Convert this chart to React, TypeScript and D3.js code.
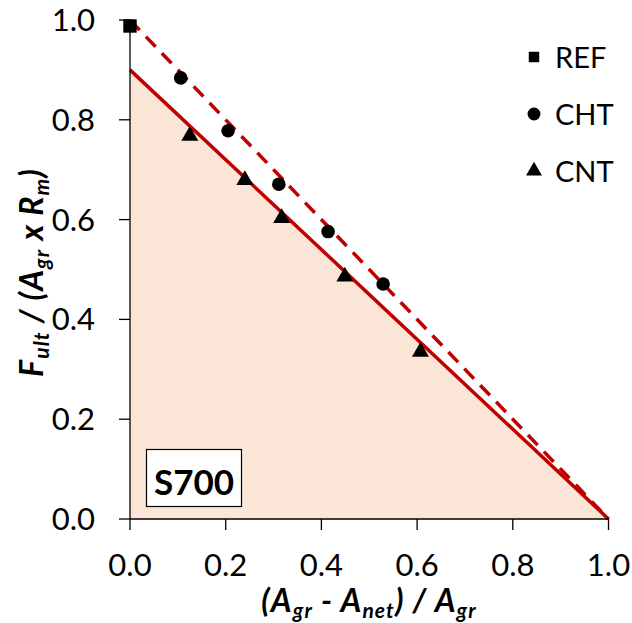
import React from "react";
import * as d3 from "d3";

const refX = [0.0];
const refY = [0.988];
const chtX = [0.106, 0.205, 0.311, 0.414, 0.529];
const chtY = [0.884, 0.778, 0.671, 0.576, 0.471];
const cntX = [0.125, 0.24, 0.317, 0.449, 0.607];
const cntY = [0.768, 0.679, 0.603, 0.486, 0.335];
const dashedLineX = [0, 1];
const dashedLineY = [1, 0];
const solidLineX = [0, 1];
const solidLineY = [0.9, 0];
const xTicks = [0, 0.2, 0.4, 0.6, 0.8, 1.0];
const yTicks = [0, 0.2, 0.4, 0.6, 0.8, 1.0];
const legendLabels = ["REF", "CHT", "CNT"];
const boxLabel = "S700";

const W = 632;
const H = 623;
const FONT = "Lato, 'Open Sans', sans-serif";
const RED = "#C00000";
const FILL = "#FBE5D6";

export default function App() {
  const x = d3.scaleLinear().domain([0, 1]).range([130, 608.5]);
  const y = d3.scaleLinear().domain([0, 1]).range([519, 20]);
  const fmt = d3.format(".1f");

  const line = d3
    .line<[number, number]>()
    .x((d) => x(d[0]))
    .y((d) => y(d[1]));

  const solidPts: [number, number][] = solidLineX.map((v, i) => [v, solidLineY[i]]);
  const dashedPts: [number, number][] = dashedLineX.map((v, i) => [v, dashedLineY[i]]);
  const area = d3
    .area<[number, number]>()
    .x((d) => x(d[0]))
    .y0(y(0))
    .y1((d) => y(d[1]));

  const sq = d3.symbol().type(d3.symbolSquare).size(180)();
  const circ = d3.symbol().type(d3.symbolCircle).size(145)();
  const tri = d3.symbol().type(d3.symbolTriangle).size(125)();
  const triLeg = d3.symbol().type(d3.symbolTriangle).size(110)();
  const shapes = [sq, circ, tri];

  return (
    <div style={{ position: "absolute", left: 0, top: 0 }}>
      <svg width={W} height={H} style={{ display: "block", background: "#fff" }}>
        <path d={area(solidPts) || ""} fill={FILL} />
        <path d={line(solidPts) || ""} stroke={RED} strokeWidth={3.5} fill="none" />
        <path
          d={line(dashedPts) || ""}
          stroke={RED}
          strokeWidth={3.5}
          fill="none"
          strokeDasharray="14,9"
        />
        {/* axes */}
        <line x1={x(0)} x2={x(1)} y1={y(0)} y2={y(0)} stroke="#000" strokeWidth={1.3} />
        <line x1={x(0)} x2={x(0)} y1={y(0)} y2={y(1)} stroke="#000" strokeWidth={1.3} />
        {xTicks.map((t) => (
          <g key={"xt" + t}>
            <line x1={x(t)} x2={x(t)} y1={y(0)} y2={y(0) + 11} stroke="#000" strokeWidth={1.3} />
            <text
              x={x(t)}
              y={576}
              textAnchor="middle"
              fontFamily={FONT}
              fontSize={31}
              fill="#000"
            >
              {fmt(t)}
            </text>
          </g>
        ))}
        {yTicks.map((t) => (
          <g key={"yt" + t}>
            <line x1={x(0) - 11} x2={x(0)} y1={y(t)} y2={y(t)} stroke="#000" strokeWidth={1.3} />
            <text
              x={95}
              y={y(t) + 11}
              textAnchor="end"
              fontFamily={FONT}
              fontSize={31}
              fill="#000"
            >
              {fmt(t)}
            </text>
          </g>
        ))}
        {/* S700 box */}
        <rect x={146.5} y={449.5} width={95} height={57} fill="#fff" stroke="#000" strokeWidth={1.2} />
        <text
          x={194}
          y={495}
          textAnchor="middle"
          fontFamily={FONT}
          fontWeight="bold"
          fontSize={35}
          fill="#000"
        >
          {boxLabel}
        </text>
        {/* markers */}
        {refX.map((v, i) => (
          <path key={"r" + i} d={sq || ""} transform={`translate(${x(v)},${y(refY[i])})`} fill="#000" />
        ))}
        {chtX.map((v, i) => (
          <path key={"c" + i} d={circ || ""} transform={`translate(${x(v)},${y(chtY[i])})`} fill="#000" />
        ))}
        {cntX.map((v, i) => (
          <path key={"n" + i} d={tri || ""} transform={`translate(${x(v)},${y(cntY[i])})`} fill="#000" />
        ))}
        {/* legend */}
        {legendLabels.map((lab, i) => (
          <g key={lab} transform={`translate(534,${57 + i * 57})`}>
            <path d={(i === 2 ? triLeg : shapes[i]) || ""} fill="#000" transform={i === 0 ? "scale(0.78)" : i === 1 ? "scale(0.95)" : ""} />
            <text x={21} y={10.5} fontFamily={FONT} fontSize={29} fill="#000">
              {lab}
            </text>
          </g>
        ))}
        {/* x title */}
        <text
          x={369}
          y={612}
          textAnchor="middle"
          fontFamily={FONT}
          fontWeight="bold"
          fontStyle="italic"
          fontSize={32}
          letterSpacing={1.1}
          fill="#000"
        >
          <tspan>(A</tspan>
          <tspan fontSize={21} dy={6}>gr</tspan>
          <tspan dy={-6}> - A</tspan>
          <tspan fontSize={21} dy={6}>net</tspan>
          <tspan dy={-6}>) / A</tspan>
          <tspan fontSize={21} dy={6}>gr</tspan>
        </text>
        {/* y title */}
        <text
          transform={`translate(43,${(y(0) + y(1)) / 2 + 3}) rotate(-90)`}
          textAnchor="middle"
          fontFamily={FONT}
          fontWeight="bold"
          fontStyle="italic"
          fontSize={32}
          letterSpacing={1.1}
          fill="#000"
        >
          <tspan>F</tspan>
          <tspan fontSize={21} dy={6}>ult</tspan>
          <tspan dy={-6}> / (A</tspan>
          <tspan fontSize={21} dy={6}>gr</tspan>
          <tspan dy={-6}> x R</tspan>
          <tspan fontSize={21} dy={6}>m</tspan>
          <tspan dy={-6}>)</tspan>
        </text>
      </svg>
    </div>
  );
}
